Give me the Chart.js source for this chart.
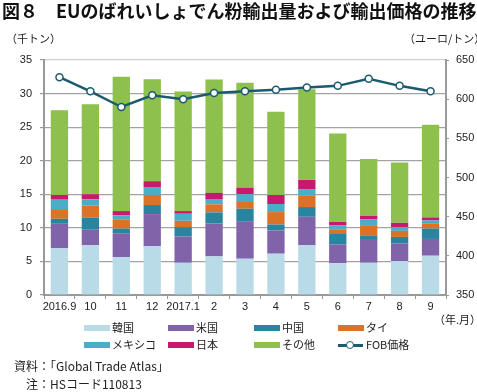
<!DOCTYPE html>
<html>
<head>
<meta charset="utf-8">
<script src="https://cdn.jsdelivr.net/npm/chart.js@4/dist/chart.umd.min.js"></script>
<style>
  body { margin: 0; background: #fff; }
  #wrap { position: relative; width: 477px; height: 392px; font-family: "Noto Sans CJK JP", sans-serif; color: #222; }
  #wrap canvas { position: absolute; left: 0; top: 0; }
  .t { position: absolute; white-space: nowrap; line-height: 1; }
  .sw { position: absolute; height: 6px; width: 26px; }
  .lg { position: absolute; font-size: 11px; line-height: 1; white-space: nowrap; }
</style>
</head>
<body>
<div id="wrap">
  <canvas id="c" width="477" height="392"></canvas>
  <div class="t" style="left:2px;top:1px;font-size:18px;font-weight:bold;color:#111;">図８　EUのばれいしょでん粉輸出量および輸出価格の推移</div>
  <div class="t" style="left:6px;top:33px;font-size:11px;">（千トン）</div>
  <div class="t" style="left:404px;top:33px;font-size:11px;">（ユーロ/トン）</div>
  <div class="t" style="left:434px;top:314px;font-size:11px;">（年.月）</div>
  <div id="legend"></div>
  <div class="t" style="left:14px;top:360px;font-size:12px;">資料：「Global Trade Atlas」</div>
  <div class="t" style="left:26px;top:378px;font-size:12px;">注：HSコード110813</div>
</div>
<script>
const months = ['2016.9', '10', '11', '12', '2017.1', '2', '3', '4', '5', '6', '7', '8', '9'];
const korea  = [7.0, 7.4, 5.65, 7.25, 4.8, 5.75, 5.4, 6.15, 7.4, 4.75, 4.8, 5.05, 5.85];
const usa    = [3.7, 2.4, 3.55, 4.8, 3.9, 4.9, 5.6, 3.45, 4.25, 2.75, 3.4, 2.6, 2.5];
const china  = [0.65, 1.75, 0.7, 1.35, 1.4, 1.65, 1.85, 0.9, 1.45, 1.7, 0.6, 1.0, 1.55];
const thai   = [1.45, 1.75, 1.3, 1.5, 0.95, 1.2, 1.0, 1.85, 1.75, 0.6, 1.6, 0.9, 0.7];
const mexico = [1.4, 0.95, 0.65, 1.1, 1.05, 0.8, 1.15, 1.2, 0.85, 0.55, 0.9, 0.55, 0.5];
const japan  = [0.7, 0.75, 0.65, 0.95, 0.4, 0.9, 1.0, 1.35, 1.45, 0.55, 0.5, 0.65, 0.45];
const other  = [12.6, 13.4, 20.0, 15.2, 17.8, 16.9, 15.6, 12.4, 13.5, 13.15, 8.45, 9.0, 13.8];
const fob    = [628, 610, 590, 605, 600, 608, 610, 612, 615, 617, 626, 617, 610];

const leftTicks = [0, 5, 10, 15, 20, 25, 30, 35];
const rightTicks = [350, 400, 450, 500, 550, 600, 650];

function bar(label, data, color) {
  return { type: 'bar', label: label, data: data, backgroundColor: color, stack: 's', yAxisID: 'y', order: 1,
           barPercentage: 0.56, categoryPercentage: 1 };
}

const tickFont = { family: '"Liberation Sans", Arial, sans-serif', size: 11 };

const chart = new Chart(document.getElementById('c'), {
  data: {
    labels: months,
    datasets: [
      bar('韓国', korea, '#b9dbe7'),
      bar('米国', usa, '#8163a9'),
      bar('中国', china, '#2a849f'),
      bar('タイ', thai, '#da7327'),
      bar('メキシコ', mexico, '#4aaec9'),
      bar('日本', japan, '#c9186f'),
      bar('その他', other, '#8dc04c'),
      {
        type: 'line', label: 'FOB価格', data: fob, yAxisID: 'y1', order: 0,
        borderColor: '#1c5b6f', borderWidth: 2.5,
        pointRadius: 3.5, pointBackgroundColor: '#fff', pointBorderColor: '#1c5b6f', pointBorderWidth: 1.5,
        tension: 0
      }
    ]
  },
  options: {
    responsive: false,
    animation: false,
    layout: { padding: { left: 0, right: 0, top: 60, bottom: 77 } },
    plugins: { legend: { display: false }, tooltip: { enabled: false } },
    scales: {
      x: {
        stacked: true,
        afterFit: s => { s.height = 20; },
        grid: { offset: true, drawOnChartArea: false, tickLength: 4, color: '#999' },
        border: { color: '#999', width: 2 },
        ticks: { color: '#222', font: tickFont, padding: 1, maxRotation: 0, autoSkip: false }
      },
      y: {
        stacked: true, position: 'left', min: 0, max: 35,
        afterFit: s => { s.width = 44; },
        afterBuildTicks: s => { s.ticks = leftTicks.map(v => ({ value: v })); },
        grid: {
          tickLength: 4, tickColor: '#999', lineWidth: 1.2,
          color: ctx => ctx.tick && ctx.tick.value === 35 ? '#cfcfcf' : (ctx.tick && ctx.tick.value === 0 ? 'rgba(0,0,0,0)' : '#a3a3a3')
        },
        border: { color: '#999', width: 2 },
        ticks: { color: '#222', font: tickFont, padding: 8 }
      },
      y1: {
        position: 'right', min: 350, max: 650,
        afterFit: s => { s.width = 31; },
        afterBuildTicks: s => { s.ticks = rightTicks.map(v => ({ value: v })); },
        grid: { drawOnChartArea: false, tickLength: 3, tickColor: '#999' },
        border: { color: '#999', width: 2 },
        ticks: { color: '#222', font: tickFont, padding: 7 }
      }
    }
  }
});

// legend built from the chart's datasets
const cols = [84, 168, 254, 338];
const rows = [325, 342];
const order = [0, 1, 2, 3, 4, 5, 6, 7];
const lg = document.getElementById('legend');
order.forEach((di, i) => {
  const ds = chart.data.datasets[di];
  const x = cols[i % 4], y = rows[Math.floor(i / 4)];
  if (ds.type === 'line') {
    const l = document.createElement('div');
    l.className = 'sw';
    l.style.cssText = 'left:' + x + 'px;top:' + (y + 2) + 'px;height:2.5px;width:25px;background:' + ds.borderColor;
    lg.appendChild(l);
    const c = document.createElement('div');
    c.style.cssText = 'position:absolute;left:' + (x + 8) + 'px;top:' + (y - 1) + 'px;width:6px;height:6px;border-radius:50%;background:#fff;border:1.5px solid ' + ds.borderColor;
    lg.appendChild(c);
  } else {
    const s = document.createElement('div');
    s.className = 'sw';
    s.style.cssText = 'left:' + x + 'px;top:' + y + 'px;background:' + ds.backgroundColor;
    lg.appendChild(s);
  }
  const t = document.createElement('div');
  t.className = 'lg';
  t.style.left = (x + 28) + 'px';
  t.style.top = (y - 3) + 'px';
  t.textContent = ds.label;
  lg.appendChild(t);
});
</script>
</body>
</html>
